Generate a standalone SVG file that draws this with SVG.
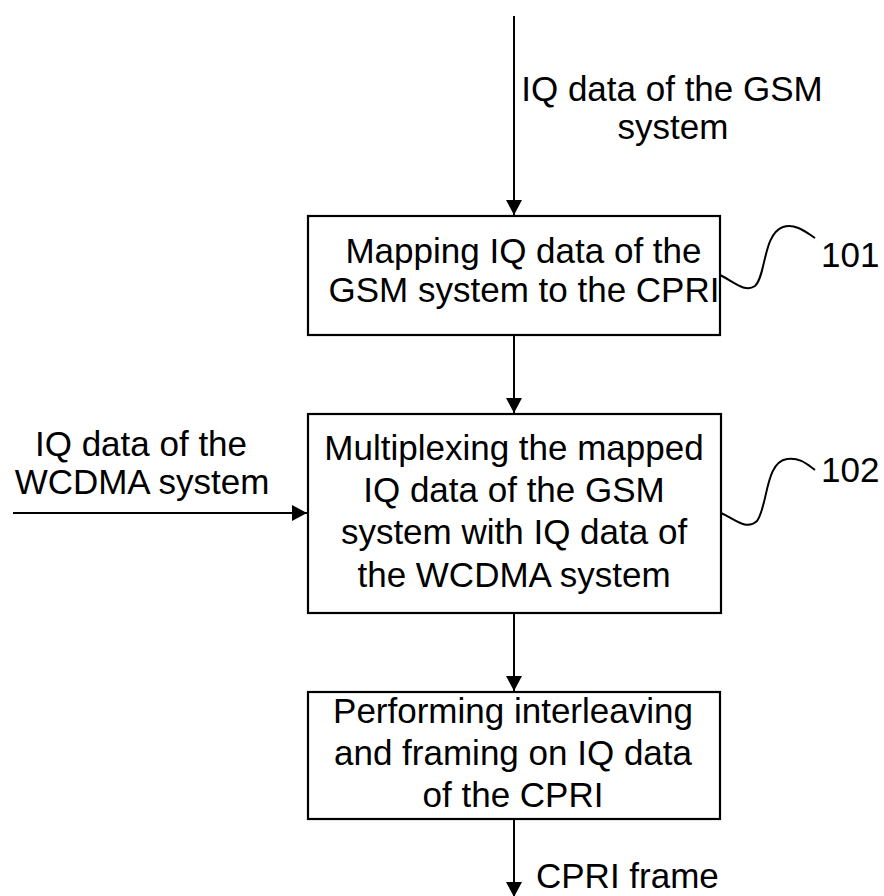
<svg xmlns="http://www.w3.org/2000/svg" width="884" height="896" viewBox="0 0 884 896">
<defs>
<style>
text{font-family:"Liberation Sans",Arial,sans-serif;font-size:35px;fill:#000}
.box{fill:#fff;stroke:#000;stroke-width:2.2}
.c{fill:none;stroke:#000;stroke-width:2}
.sq{fill:none;stroke:#000;stroke-width:2}
.m{text-anchor:middle}
</style>
<marker id="ah" markerWidth="16" markerHeight="16" viewBox="0 0 16 16" refX="15" refY="8" orient="auto" markerUnits="userSpaceOnUse">
<path d="M0,0 L15,8 L0,16 Z" fill="#000"/>
</marker>
</defs>
<rect width="884" height="896" fill="#fff"/>
<g id="connectors">
<line class="c" x1="514" y1="16" x2="514" y2="215" marker-end="url(#ah)"/>
<line class="c" x1="514" y1="335" x2="514" y2="413" marker-end="url(#ah)"/>
<line class="c" x1="13" y1="513" x2="307" y2="513" marker-end="url(#ah)"/>
<line class="c" x1="514" y1="613" x2="514" y2="691" marker-end="url(#ah)"/>
<line class="c" x1="514" y1="819" x2="514" y2="897" marker-end="url(#ah)"/>
<path class="sq" d="M720,275 C734,282 745,293 755,286 C766,276 763,234 783,227 C795,223 806,232 815,238"/>
<path class="sq" d="M721,513 C735,519 746,531 757,521 C768,506 765,462 787,459 C800,457 808,465 815,470"/>
</g>
<g id="label-gsm">
<text class="m" x="672" y="101">IQ data of the GSM</text>
<text class="m" x="673" y="139">system</text>
</g>
<g id="label-wcdma">
<text class="m" x="141" y="456">IQ data of the</text>
<text class="m" x="142" y="494">WCDMA system</text>
</g>
<g id="node-101">
<rect class="box" x="308" y="216" width="412" height="119"/>
<text class="m" x="523.5" y="263">Mapping IQ data of the</text>
<text class="m" x="524" y="302">GSM system to the CPRI</text>
</g>
<g id="ref-101"><text x="821" y="267">101</text></g>
<g id="node-102">
<rect class="box" x="308" y="414" width="413" height="199"/>
<text class="m" x="514" y="460">Multiplexing the mapped</text>
<text class="m" x="514" y="502">IQ data of the GSM</text>
<text class="m" x="514" y="544">system with IQ data of</text>
<text class="m" x="514" y="587">the WCDMA system</text>
</g>
<g id="ref-102"><text x="821" y="482">102</text></g>
<g id="node-103">
<rect class="box" x="308" y="692" width="412" height="127"/>
<text class="m" x="513" y="723">Performing interleaving</text>
<text class="m" x="513" y="765">and framing on IQ data</text>
<text class="m" x="513" y="807">of the CPRI</text>
</g>
<g id="label-cpri">
<text x="536" y="888">CPRI frame</text>
</g>
</svg>
